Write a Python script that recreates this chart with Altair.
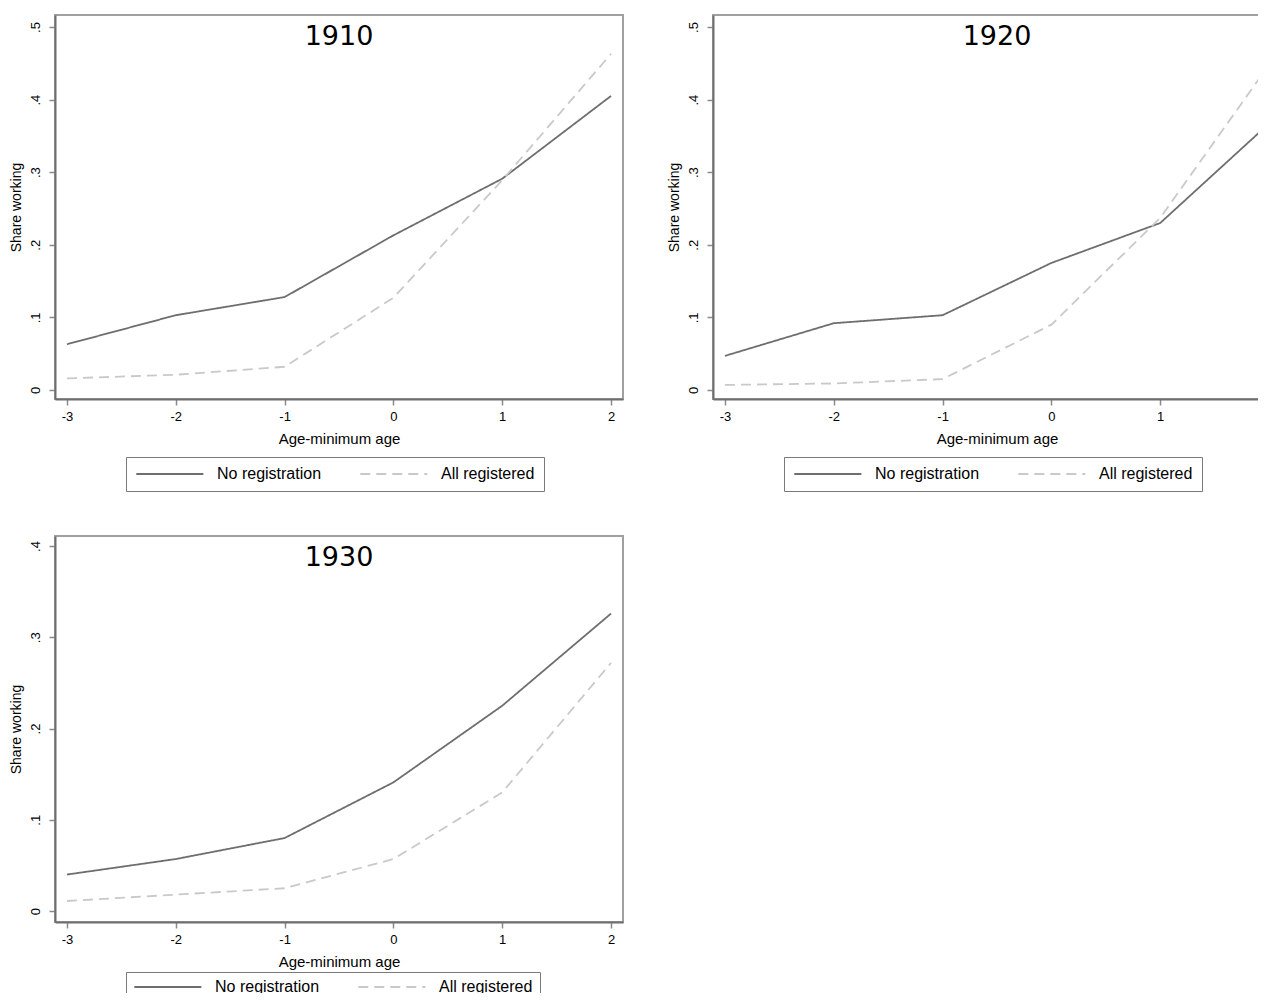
import altair as alt
import pandas as pd

ages = [-3, -2, -1, 0, 1, 2]
series_names = ["No registration", "All registered"]
years = ["1910", "1920", "1930"]

no_reg_1910 = [0.063, 0.103, 0.128, 0.213, 0.291, 0.405]
all_reg_1910 = [0.016, 0.021, 0.032, 0.127, 0.289, 0.463]
no_reg_1920 = [0.047, 0.092, 0.103, 0.175, 0.230, 0.367]
all_reg_1920 = [0.007, 0.009, 0.015, 0.090, 0.237, 0.448]
no_reg_1930 = [0.040, 0.057, 0.080, 0.141, 0.225, 0.326]
all_reg_1930 = [0.011, 0.018, 0.025, 0.057, 0.130, 0.272]

y_ticks_hi = [0, 0.1, 0.2, 0.3, 0.4, 0.5]
y_ticks_lo = [0, 0.1, 0.2, 0.3, 0.4]

FONT = "Liberation Sans"
Y_LABEL_EXPR = "datum.value == 0 ? '0' : replace(format(datum.value, '.1f'), '0.', '.')"
X_LABEL_EXPR = "'' + datum.value"
# long horizontal legend line: path spans 10 units of sqrt(size)/2
LEGEND_LINE = "M-1,0L9,0"


def panel(year, no_reg, all_reg, ydomain, yticks, height, legend_gap, legend_pad):
    df = pd.DataFrame({
        "age": ages + ages,
        "share": no_reg + all_reg,
        "series": [series_names[0]] * len(ages) + [series_names[1]] * len(ages),
    })
    legend = alt.Legend(
        title=None, orient="none", legendX=71, legendY=height + legend_gap,
        direction="horizontal", symbolType=LEGEND_LINE, symbolSize=180,
        symbolStrokeWidth=2, labelFont=FONT, labelFontSize=16, labelColor="black",
        labelOffset=66, columnPadding=34, padding=legend_pad, strokeColor="#7a7a7a",
        fillColor="white", cornerRadius=0,
    )
    return alt.Chart(
        df,
        title=alt.TitleParams(year, font="DejaVu Sans", fontSize=27, fontWeight="normal",
                              color="black", anchor="middle", frame="group", offset=-36),
    ).mark_line(strokeWidth=1.8).encode(
        x=alt.X("age:Q",
                scale=alt.Scale(domain=[-3.11, 2.11], nice=False, zero=False),
                axis=alt.Axis(values=ages, title="Age-minimum age", labelExpr=X_LABEL_EXPR)),
        y=alt.Y("share:Q",
                scale=alt.Scale(domain=ydomain, nice=False, zero=False),
                axis=alt.Axis(values=yticks, title="Share working", labelAngle=-90,
                              labelExpr=Y_LABEL_EXPR)),
        color=alt.Color("series:N",
                        scale=alt.Scale(domain=series_names, range=["#6e6e6e", "#c9c9c9"]),
                        legend=legend),
        strokeDash=alt.StrokeDash("series:N",
                                  scale=alt.Scale(domain=series_names, range=[[1, 0], [10, 6]]),
                                  legend=legend),
    ).properties(width=568, height=height)


p1 = panel(years[0], no_reg_1910, all_reg_1910, [-0.0124, 0.5165], y_ticks_hi, 384, 58, 9)
p2 = panel(years[1], no_reg_1920, all_reg_1920, [-0.0124, 0.5165], y_ticks_hi, 384, 58, 9)
p3 = panel(years[2], no_reg_1930, all_reg_1930, [-0.012, 0.411], y_ticks_lo, 386, 50, 7)

row1 = alt.hconcat(p1, p2, spacing=42).resolve_scale(
    x="independent", y="independent", color="independent", strokeDash="independent"
).resolve_legend(color="independent", strokeDash="independent")

chart = alt.vconcat(row1, p3, spacing=42).resolve_scale(
    x="independent", y="independent", color="independent", strokeDash="independent"
).resolve_legend(color="independent", strokeDash="independent").properties(
    padding={"left": 0, "top": 6, "right": -24, "bottom": -11},
    background="white",
).configure_view(
    stroke="#a0a0a0", strokeWidth=2
).configure_axis(
    grid=False, domainColor="#6e6e6e", domainWidth=2, tickColor="#8a8a8a",
    tickSize=6, tickWidth=1.5, labelFont=FONT, labelFontSize=13, labelColor="black",
    titleFont=FONT, titleFontSize=15, titleFontWeight="normal", titleColor="black",
).configure_axisX(
    labelPadding=5, titlePadding=8,
).configure_axisY(
    labelPadding=7, titlePadding=6, titleFontSize=14,
)

chart.save("out.html", embed_options={"renderer": "svg", "actions": False})
